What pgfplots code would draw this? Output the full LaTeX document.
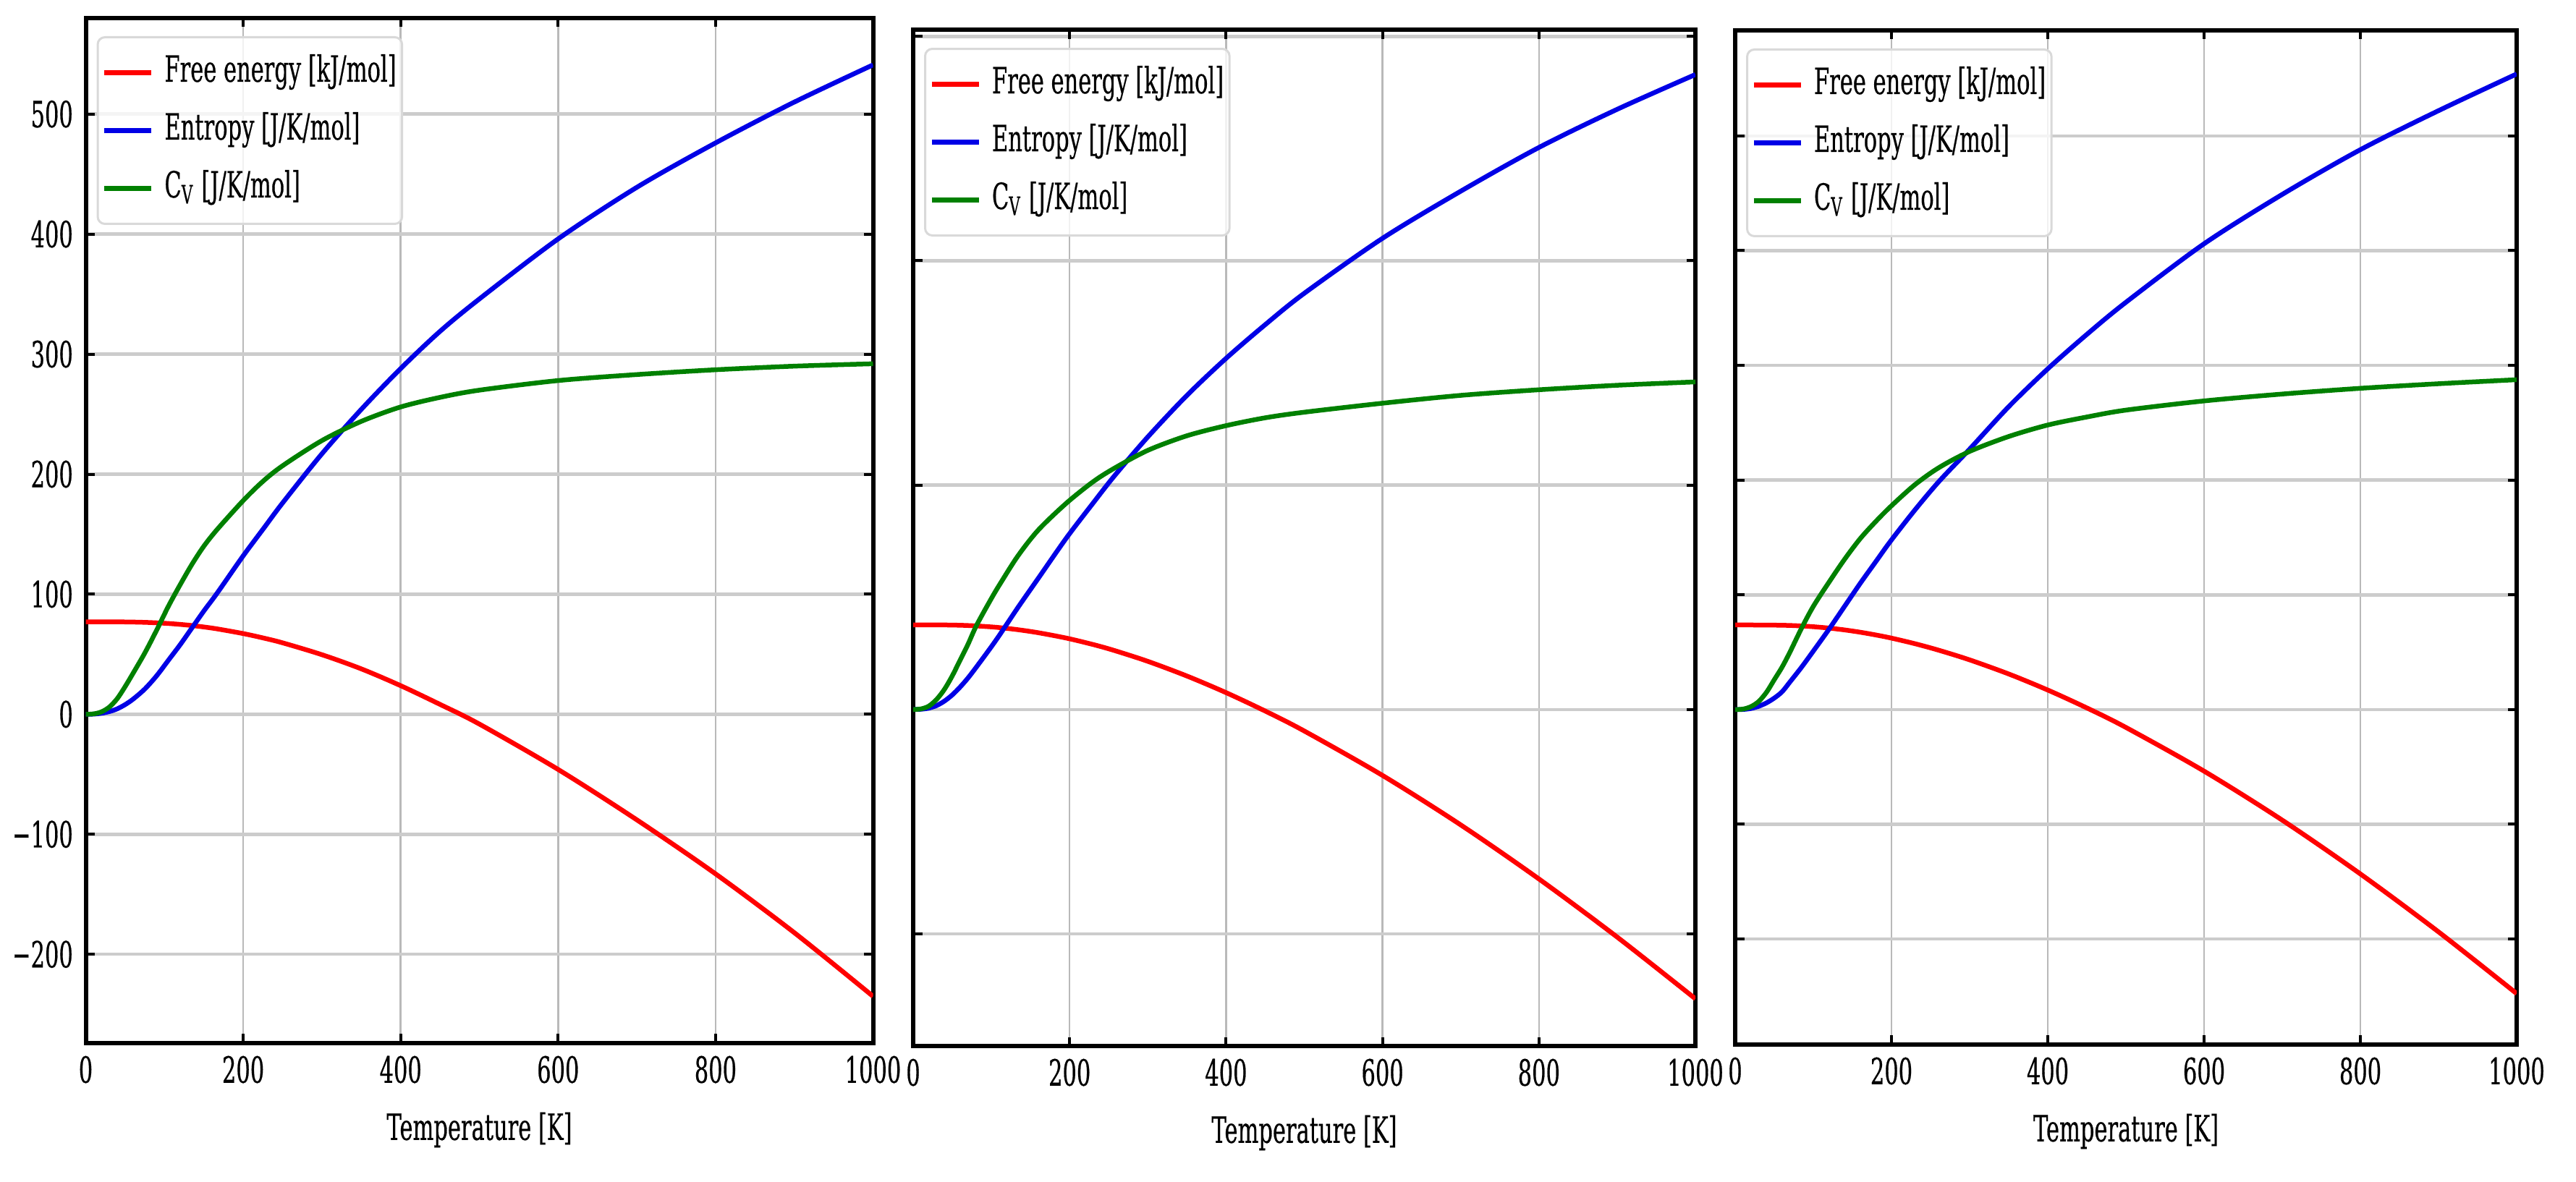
\documentclass[border=0pt]{standalone}
\usepackage{fontspec}
\setmainfont{DejaVu Serif}[FakeStretch=0.61, FakeBold=0.4]
\usepackage{pgfplots}
\usepackage{pgfplotstable}
\pgfplotsset{compat=1.18}
\definecolor{cred}{HTML}{FF0000}
\definecolor{cblue}{HTML}{0000E6}
\definecolor{cgreen}{HTML}{008000}

% T  F[kJ/mol]  S[J/K/mol]  Cv[J/K/mol]
\pgfplotstableread{
T F S C
0 77.0 0 0
10 77.0 0.1 0.3
20 77.0 0.8 2
30 76.99 2.2 6
40 76.96 4.5 13
50 76.9 8 23
60 76.8 12.5 34
75 76.55 21 51
90 76.15 32 70
105 75.6 45 90
120 74.85 58 108
135 73.9 72 125
150 72.7 86 140
167 71.1 101 154
200 67.2 132 178
225 63.6 154 194
250 59.5 176 207
300 49.6 217 228
350 37.8 254 244
400 23.8 288 256
450 8.2 319 264
500 -8.2 346 270
600 -46 396 278
700 -88 439 283
800 -133 476 287
900 -182 510 290
1000 -235 541 292
}\dataA

\pgfplotstableread{
T F S C
0 75.4 0 0
10 75.4 0.2 0.5
20 75.4 1.2 3
30 75.38 3.5 9
40 75.33 7.5 18
50 75.23 13 30
60 75.07 20 44
70 74.83 28 58
81 74.47 38 75
100 73.6 56 99
112 72.86 68 113
134 71.1 91 137
160 68.4 117 160
196 63.6 153 184
230 57.9 184 203
257 52.6 208 215
300 42.9 243 231
350 29.8 280 244
400 15.0 313 253
450 -1.4 343 260
500 -19.2 371 265
600 -58.8 420 273
700 -102.9 462 280
800 -151.1 501 285
900 -202.9 535 289
1000 -257.9 566 292
}\dataB

\pgfplotstableread{
T F S C
0 73.7 0 0
10 73.7 0.1 0.4
20 73.7 0.9 2.5
30 73.68 2.8 7
40 73.64 5.8 15
50 73.57 10 26
60 73.45 15.5 37
70 73.3 24 50
85 72.85 37 71
100 72.2 51 90
120 71.0 70 111
140 69.4 90 131
160 67.4 110 149
180 65.0 129 164
199 62.4 147 177
230 57.4 174 196
261 51.6 199 211
300 43.3 227 225
350 31.0 264 238
400 17.0 297 248
450 1.4 327 255
500 -15.6 355 261
600 -53.7 406 269
700 -96.4 449 275
800 -143.3 488 280
900 -193.8 522 284
1000 -247.6 554 287.5
}\dataC

\pgfplotsset{
  panel/.style={
    scale only axis,
    anchor=south west,
    xmin=0, xmax=1000,
    xtick={0,200,400,600,800,1000},
    xticklabels={0,200,400,600,800,1000},
    axis line style={line width=1.2pt, black},
    tick align=inside, tick pos=both,
    major tick length=2.5pt,
    every tick/.style={black, line width=0.8pt},
    xmajorgrids, ymajorgrids,
    x grid style={gray!55, line width=0.5pt},
    y grid style={gray!40, line width=0.9pt},
    tick label style={font=\fontsize{10}{12}\selectfont},
    xlabel={Temperature [K]},
    label style={font=\fontsize{10}{12}\selectfont},
    xlabel style={yshift=-1.2pt},
    legend cell align=left,
    legend style={at={(0,1)}, anchor=north west, xshift=3pt, yshift=-5pt,
      draw=gray!30, line width=0.6pt, rounded corners=2pt,
      fill=white, fill opacity=0.8, text opacity=1,
      inner xsep=1.2pt, inner ysep=1.8pt,
      font=\fontsize{10}{12}\selectfont,
      nodes={inner xsep=0.4pt, inner ysep=3pt, text height=7.5pt, text depth=2.5pt},
      column sep=2.6pt},
    legend image code/.code={\draw[#1] (0pt,0pt) -- (13pt,0pt);},
    every axis plot/.append style={line width=1.3pt, smooth, tension=0.5},
  }
}

\begin{document}
\begin{tikzpicture}
\useasboundingbox (0,0) rectangle (712pt,326.6pt);
% panel 1
\begin{axis}[panel, at={(23.7pt,38.2pt)}, width=217.6pt, height=283.4pt,
  ymin=-274, ymax=580,
  ytick={-200,-100,0,100,200,300,400,500},
  yticklabels={−200,−100,0,100,200,300,400,500}]
\addplot[cred] table[x=T,y=F]{\dataA};
\addlegendentry{Free energy [kJ/mol]}
\addplot[cblue] table[x=T,y=S]{\dataA};
\addlegendentry{Entropy [J/K/mol]}
\addplot[cgreen] table[x=T,y=C]{\dataA};
\addlegendentry{C\textsubscript{V} [J/K/mol]}
\end{axis}
% panel 2
\begin{axis}[panel, at={(252.4pt,37.4pt)}, width=216.2pt, height=281pt,
  ymin=-300, ymax=606,
  ytick={-200,0,200,400,600},
  yticklabels={}]
\addplot[cred] table[x=T,y=F]{\dataB};
\addlegendentry{Free energy [kJ/mol]}
\addplot[cblue] table[x=T,y=S]{\dataB};
\addlegendentry{Entropy [J/K/mol]}
\addplot[cgreen] table[x=T,y=C]{\dataB};
\addlegendentry{C\textsubscript{V} [J/K/mol]}
\end{axis}
% panel 3
\begin{axis}[panel, at={(479.6pt,37.8pt)}, width=216pt, height=280.4pt,
  ymin=-292, ymax=592,
  ytick={-200,-100,0,100,200,300,400,500},
  yticklabels={}]
\addplot[cred] table[x=T,y=F]{\dataC};
\addlegendentry{Free energy [kJ/mol]}
\addplot[cblue] table[x=T,y=S]{\dataC};
\addlegendentry{Entropy [J/K/mol]}
\addplot[cgreen] table[x=T,y=C]{\dataC};
\addlegendentry{C\textsubscript{V} [J/K/mol]}
\end{axis}
\end{tikzpicture}
\end{document}
